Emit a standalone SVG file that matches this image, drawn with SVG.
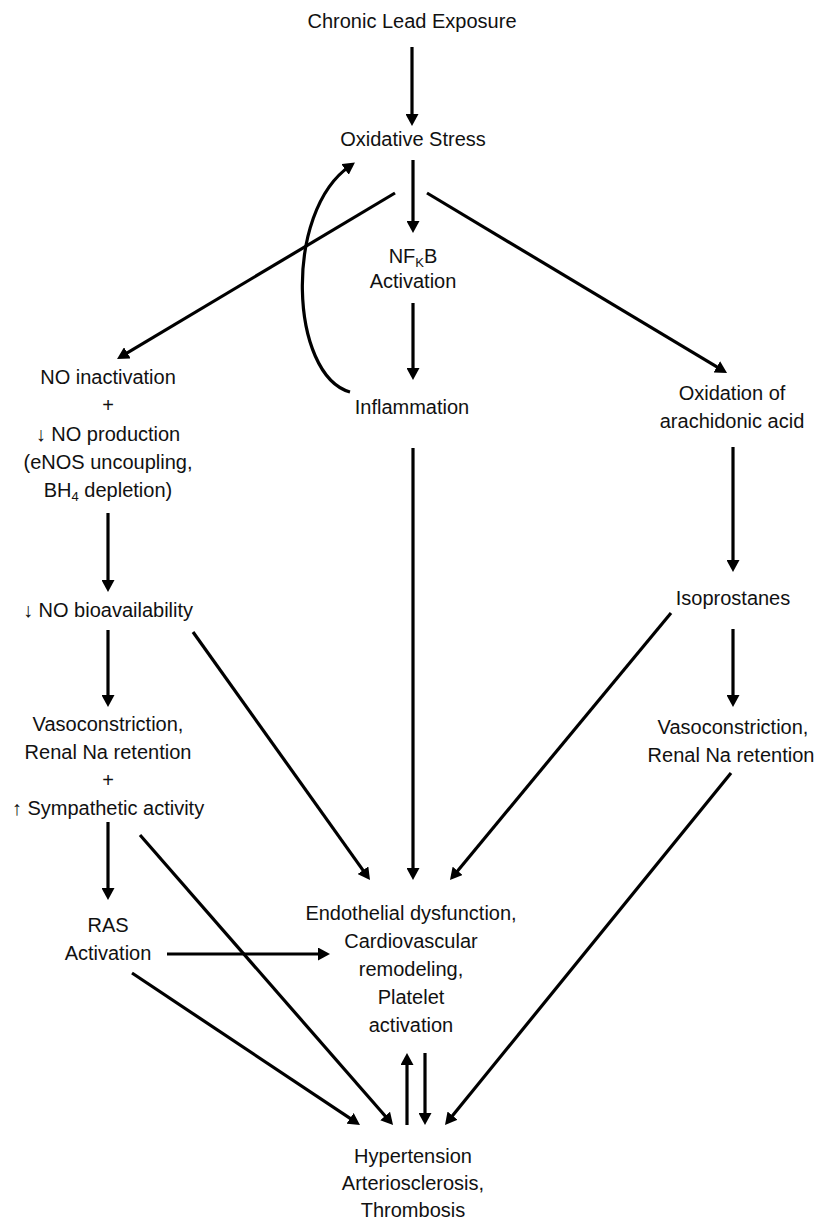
<svg xmlns="http://www.w3.org/2000/svg" width="814" height="1222" viewBox="0 0 814 1222">
  <style>
    text { font-family: "Liberation Sans", Arial, sans-serif; font-size: 20px; fill: #111; text-anchor: middle; }
    .sub { font-size: 13px; }
    .edge { stroke: #000; stroke-width: 3.2; fill: none; marker-end: url(#head); }
  </style>
  <defs>
    <marker id="head" viewBox="0 0 12 13" refX="6" refY="6.5" markerWidth="12" markerHeight="13" markerUnits="userSpaceOnUse" orient="auto">
      <path d="M0,0 L12,6.5 L0,13 z" fill="#000"/>
    </marker>
  </defs>
  <rect width="814" height="1222" fill="#fff"/>

  <g id="connectors">
    <line class="edge" x1="412" y1="47" x2="412" y2="120"/>
    <line class="edge" x1="413" y1="160" x2="413" y2="227"/>
    <line class="edge" x1="413" y1="303" x2="413" y2="374"/>
    <line class="edge" x1="395" y1="193" x2="122.2" y2="355.9"/>
    <line class="edge" x1="427" y1="193" x2="721.9" y2="369.9"/>
    <path class="edge" d="M350,392 C290,375 283,212 350,166"/>
    <line class="edge" x1="108" y1="513" x2="108" y2="586"/>
    <line class="edge" x1="108" y1="630" x2="108" y2="701"/>
    <line class="edge" x1="108" y1="822" x2="108" y2="894"/>
    <line class="edge" x1="193" y1="632" x2="366.5" y2="875.1"/>
    <line class="edge" x1="413" y1="448" x2="413" y2="874"/>
    <line class="edge" x1="671" y1="613" x2="453.8" y2="875.4"/>
    <line class="edge" x1="733" y1="447" x2="733" y2="566"/>
    <line class="edge" x1="733" y1="629" x2="733" y2="701"/>
    <line class="edge" x1="167" y1="954" x2="324" y2="954"/>
    <line class="edge" x1="140" y1="835" x2="389.1" y2="1120.5"/>
    <line class="edge" x1="132" y1="973" x2="355" y2="1121.7"/>
    <line class="edge" x1="407" y1="1125" x2="407" y2="1059"/>
    <line class="edge" x1="425" y1="1053" x2="425" y2="1119"/>
    <line class="edge" x1="731" y1="773" x2="448.8" y2="1120.3"/>
  </g>

  <g id="lead-exposure"><text x="412" y="28">Chronic Lead Exposure</text></g>
  <g id="oxidative-stress"><text x="413" y="146">Oxidative Stress</text></g>
  <g id="nfkb-activation">
    <text x="413" y="263">NF<tspan class="sub" dy="4">K</tspan><tspan dy="-4">B</tspan></text>
    <text x="413" y="288">Activation</text>
  </g>
  <g id="inflammation"><text x="412" y="414">Inflammation</text></g>
  <g id="no-inactivation">
    <text x="108" y="384">NO inactivation</text>
    <text x="108" y="412">+</text>
    <text x="108" y="441">↓ NO production</text>
    <text x="108" y="469">(eNOS uncoupling,</text>
    <text x="108" y="497">BH<tspan class="sub" dy="4">4</tspan><tspan dy="-4"> depletion)</tspan></text>
  </g>
  <g id="no-bioavailability"><text x="108" y="617">↓ NO bioavailability</text></g>
  <g id="vasoconstriction-left">
    <text x="108" y="731">Vasoconstriction,</text>
    <text x="108" y="759">Renal Na retention</text>
    <text x="108" y="787">+</text>
    <text x="108" y="815">↑ Sympathetic activity</text>
  </g>
  <g id="ras-activation">
    <text x="108" y="932">RAS</text>
    <text x="108" y="960">Activation</text>
  </g>
  <g id="arachidonic-oxidation">
    <text x="732" y="400">Oxidation of</text>
    <text x="732" y="428">arachidonic acid</text>
  </g>
  <g id="isoprostanes"><text x="733" y="605">Isoprostanes</text></g>
  <g id="vasoconstriction-right">
    <text x="733" y="734">Vasoconstriction,</text>
    <text x="731" y="762">Renal Na retention</text>
  </g>
  <g id="endothelial-dysfunction">
    <text x="411" y="920">Endothelial dysfunction,</text>
    <text x="411" y="948">Cardiovascular</text>
    <text x="411" y="976">remodeling,</text>
    <text x="411" y="1004">Platelet</text>
    <text x="411" y="1032">activation</text>
  </g>
  <g id="hypertension">
    <text x="413" y="1163">Hypertension</text>
    <text x="413" y="1190">Arteriosclerosis,</text>
    <text x="413" y="1217">Thrombosis</text>
  </g>
</svg>
